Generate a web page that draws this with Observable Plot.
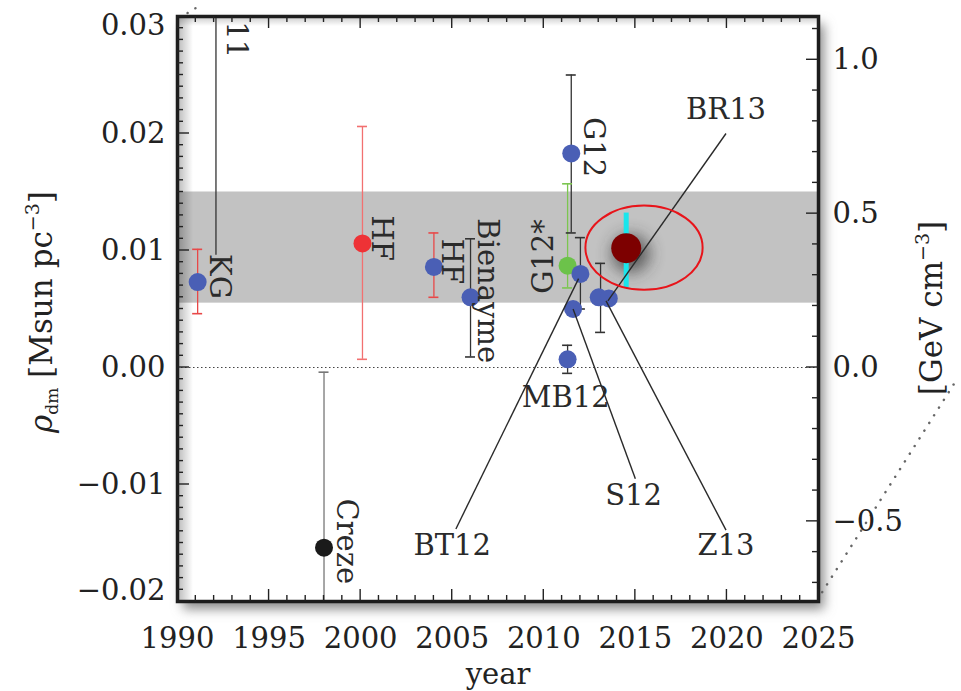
<!DOCTYPE html>
<html><head><meta charset="utf-8">
<script src="https://cdn.jsdelivr.net/npm/d3@7"></script>
<script src="https://cdn.jsdelivr.net/npm/@observablehq/plot@0.6"></script>
<style>
body{margin:0;background:#fff}
#chart svg{font-family:"DejaVu Serif",serif;overflow:visible}
</style>
</head><body><div id="chart"></div>
<script>
// ---- data ----
const K = 0.0263; // Msun pc^-3 per GeV cm^-3

const pointNames  = ["KG","HF","HF","Bienayme","G12","G12*","BT12","S12","MB12","Z13","Z13","Creze"];
const pointYears  = [1991.1,2000.1,2004.0,2006.0,2011.5,2011.3,2012.0,2011.6,2011.3,2013.0,2013.55,1998.0];
const pointValues = [0.0073,0.0106,0.0086,0.0060,0.0183,0.0087,0.0080,0.0050,0.0007,0.0060,0.0059,-0.0154];
const pointColors = ["#4a5fb5","#ee3236","#4a5fb5","#4a5fb5","#4a5fb5","#6cc24a","#4a5fb5","#4a5fb5","#4a5fb5","#4a5fb5","#4a5fb5","#1a1a1a"];

const br13Year = 2014.5, br13Value = 0.0102, br13Lo = 0.0068, br13Hi = 0.0132;

const barYears  = [1991.1,2000.1,2004.0,2006.0,2011.5,2011.3,2012.0,2011.3,2013.1,1998.0,1992.1];
const barLo     = [0.0046,0.0007,0.0060,0.0009,0.0115,0.0068,0.0050,-0.0005,0.0030,-0.0205,0.0096];
const barHi     = [0.0101,0.0206,0.0115,0.0110,0.0250,0.0157,0.0111,0.0019,0.0089,-0.0004,0.0305];
const barColors = ["#e84848","#f27070","#e84848","#333","#333","#7cc650","#333","#333","#333","#777","#333"];
const barCapLo  = [true,true,true,true,true,true,true,true,true,false,false];
const barCapHi  = [true,true,true,true,true,true,true,true,true,true,false];

const bandLo = 0.0055, bandHi = 0.015;

const leaderNames = ["BT12","S12","Z13","BR13"];
const leaderX1 = [2005.2,2015.0,2019.95,2019.95];
const leaderY1 = [-0.0138,-0.0095,-0.0139,0.0200];
const leaderX2 = [2011.9,2011.6,2013.4,2013.5];
const leaderY2 = [0.0076,0.0050,0.0057,0.0057];

const labelText   = ["11","KG","HF","HF","Bienayme","G12","Creze","G12*","BR13","MB12","S12","BT12","Z13"];
const labelYears  = [1993.2,1992.3,2001.15,2004.97,2006.9,2012.7,1999.2,2010.0,2019.95,2011.2,2014.9,2005.0,2019.95];
const labelValues = [0.0296,0.0097,0.0130,0.0110,0.01275,0.0214,-0.0112,0.0063,0.0220,-0.0026,-0.0110,-0.0152,-0.0152];
const labelRotate = [90,90,90,90,90,90,90,-90,0,0,0,0,0];

const ellipseYear = 2015.5, ellipseValue = 0.0102, ellipseRYears = 3.2, ellipseRValue = 0.0036;

const xTicks = [1990,1995,2000,2005,2010,2015,2020,2025];
const yTicks = [-0.02,-0.01,0.00,0.01,0.02,0.03];
const gevTicks = [-0.5,0.0,0.5,1.0];

const edgeYears  = [2025.2,2032.6];
const edgeValues = [-0.0192,-0.0009];
const edge2Years = [1990.55,1991.4];
const edge2Values= [0.0303,0.0311];

// ---- tables ----
const points = pointNames.map((n,i)=>({name:n,year:pointYears[i],value:pointValues[i],color:pointColors[i]}));
const bars = barYears.map((y,i)=>({year:y,lo:barLo[i],hi:barHi[i],color:barColors[i]}));
const caps = [];
bars.forEach((b,i)=>{ if(barCapLo[i]) caps.push({year:b.year,v:b.lo,color:b.color}); if(barCapHi[i]) caps.push({year:b.year,v:b.hi,color:b.color}); });
const leaders = leaderNames.map((n,i)=>({x1:leaderX1[i],y1:leaderY1[i],x2:leaderX2[i],y2:leaderY2[i]}));
const labels = labelText.map((t,i)=>({text:t,year:labelYears[i],value:labelValues[i],rot:labelRotate[i]}));

const fmt2 = d3.format(".2f"), fmt1 = d3.format(".1f");

// frame shadow & inner shading
function frameDecor(index, {x, y}, values, dim) {
  const L = dim.marginLeft, R = dim.width - dim.marginRight, T = dim.marginTop, B = dim.height - dim.marginBottom;
  const g = d3.create("svg:g");
  const defs = g.append("defs");
  defs.append("filter").attr("id","fshadow").attr("x","-10%").attr("y","-10%").attr("width","130%").attr("height","130%")
    .append("feGaussianBlur").attr("stdDeviation",6);
  g.append("rect").attr("x",L+6).attr("y",T+8).attr("width",R-L).attr("height",B-T)
    .attr("fill","#8a8a8a").attr("filter","url(#fshadow)");
  g.append("rect").attr("x",L).attr("y",T).attr("width",R-L).attr("height",B-T).attr("fill","#fff");
  return g.node();
}
function innerShade(index, s, values, dim) {
  const L = dim.marginLeft, R = dim.width - dim.marginRight, T = dim.marginTop, B = dim.height - dim.marginBottom;
  const g = d3.create("svg:g");
  const defs = g.append("defs");
  const lg = defs.append("linearGradient").attr("id","lshade").attr("x1",0).attr("x2",1).attr("y1",0).attr("y2",0);
  lg.append("stop").attr("offset",0).attr("stop-color","#000").attr("stop-opacity",0.28);
  lg.append("stop").attr("offset",1).attr("stop-color","#000").attr("stop-opacity",0);
  const tg = defs.append("linearGradient").attr("id","tshade").attr("x1",0).attr("x2",0).attr("y1",0).attr("y2",1);
  tg.append("stop").attr("offset",0).attr("stop-color","#000").attr("stop-opacity",0.22);
  tg.append("stop").attr("offset",1).attr("stop-color","#000").attr("stop-opacity",0);
  g.append("rect").attr("x",L).attr("y",T).attr("width",16).attr("height",B-T).attr("fill","url(#lshade)");
  g.append("rect").attr("x",L).attr("y",T).attr("width",R-L).attr("height",10).attr("fill","url(#tshade)");
  return g.node();
}
function br13Shadow(index, {x, y}) {
  const g = d3.create("svg:g");
  g.append("defs").append("filter").attr("id","dshadow").attr("x","-100%").attr("y","-100%").attr("width","300%").attr("height","300%")
    .append("feGaussianBlur").attr("stdDeviation",8);
  g.append("circle").attr("cx",x(br13Year)+5).attr("cy",y(br13Value)+6).attr("r",19)
    .attr("fill","#333").attr("opacity",0.7).attr("filter","url(#dshadow)");
  return g.node();
}
function ellipse(index, {x, y}) {
  const cx = x(ellipseYear), cy = y(ellipseValue);
  const rx = x(ellipseYear + ellipseRYears) - cx, ry = y(ellipseValue - ellipseRValue) - cy;
  return d3.create("svg:ellipse").attr("cx",cx).attr("cy",cy).attr("rx",rx).attr("ry",ry)
    .attr("fill","none").attr("stroke","#e8141a").attr("stroke-width",2).node();
}
function ticks(index, {x, y}, values, dim) {
  const L = dim.marginLeft, R = dim.width - dim.marginRight, T = dim.marginTop, B = dim.height - dim.marginBottom;
  const g = d3.create("svg:g").attr("stroke","#222").attr("stroke-width",1.4);
  const major = 12, minor = 6;
  for (let yr = 1990; yr <= 2025; yr++) {
    const len = yr % 5 === 0 ? major : minor, px = x(yr);
    g.append("line").attr("x1",px).attr("x2",px).attr("y1",B).attr("y2",B-len);
    g.append("line").attr("x1",px).attr("x2",px).attr("y1",T).attr("y2",T+len);
  }
  for (let k = -20; k <= 30; k++) {
    const len = k % 10 === 0 ? major : minor, py = y(k/1000);
    g.append("line").attr("x1",L).attr("x2",L+len).attr("y1",py).attr("y2",py);
  }
  for (let k = -7; k <= 11; k++) {
    const len = k % 5 === 0 ? major : minor, py = y(k/10*K);
    if (py < T || py > B) continue;
    g.append("line").attr("x1",R).attr("x2",R-len).attr("y1",py).attr("y2",py);
  }
  return g.node();
}
function axisTitles(index, s, values, dim) {
  const g = d3.create("svg:g").attr("fill","#222").attr("font-size",31);
  const t = g.append("text").attr("transform","translate(52,312) rotate(-90)").attr("text-anchor","middle");
  t.append("tspan").attr("font-style","italic").text("ρ");
  t.append("tspan").attr("font-size",17).attr("dy",6).text("dm");
  t.append("tspan").attr("dy",-6).text(" [Msun pc");
  t.append("tspan").attr("font-size",19).attr("dy",-13).text("−3");
  t.append("tspan").attr("dy",13).text("]");
  const r = g.append("text").attr("transform","translate(942,308) rotate(-90)").attr("text-anchor","middle");
  r.append("tspan").text("[GeV cm");
  r.append("tspan").attr("font-size",19).attr("dy",-13).text("−3");
  r.append("tspan").attr("dy",13).text("]");
  return g.node();
}

const chart = Plot.plot({
  width: 961, height: 691,
  marginLeft: 177, marginRight: 143, marginTop: 16, marginBottom: 90,
  x: {domain: [1990, 2025], axis: null},
  y: {domain: [-0.02, 0.03], axis: null},
  style: {fontFamily: "DejaVu Serif, serif", fontSize: "29px", color: "#222", background: "transparent"},
  marks: [
    frameDecor,
    Plot.rect([{lo: bandLo, hi: bandHi}], {y1: "lo", y2: "hi", fill: "#c2c2c2"}),
    innerShade,
    Plot.ruleY([0], {stroke: "#444", strokeWidth: 1.2, strokeDasharray: "1.5,2.5"}),
    Plot.ruleX(bars, {x: "year", y1: "lo", y2: "hi", stroke: "color", strokeWidth: 1.3, clip: true}),
    Plot.ruleY(caps, {y: "v", x1: "year", x2: "year", insetLeft: -5, insetRight: -5, stroke: "color", strokeWidth: 1.6}),
    Plot.dot(points, {x: "year", y: "value", fill: "color", r: 9}),
    br13Shadow,
    Plot.ruleX([{year: br13Year, lo: br13Lo, hi: br13Hi}], {x: "year", y1: "lo", y2: "hi", stroke: "#19e6ec", strokeWidth: 5}),
    Plot.dot([{year: br13Year, value: br13Value}], {x: "year", y: "value", fill: "#7d0000", r: 15}),
    Plot.link(leaders, {x1: "x1", y1: "y1", x2: "x2", y2: "y2", stroke: "#2a2a2a", strokeWidth: 1.4}),
    ellipse,
    Plot.text(labels.filter(d => d.rot === 90), {x: "year", y: "value", text: "text", rotate: 90, textAnchor: "start", fill: "#2a2a2a"}),
    Plot.text(labels.filter(d => d.rot === -90), {x: "year", y: "value", text: "text", rotate: -90, textAnchor: "start", fill: "#2a2a2a"}),
    Plot.text(labels.filter(d => d.rot === 0), {x: "year", y: "value", text: "text", textAnchor: "middle", fill: "#2a2a2a"}),
    Plot.frame({stroke: "#1c1c1c", strokeWidth: 3.5}),
    ticks,
    Plot.line(edgeYears.map((x,i)=>({x, y: edgeValues[i]})), {x: "x", y: "y", stroke: "#666", strokeWidth: 2.5, strokeDasharray: "0.1,9", strokeLinecap: "round"}),
    Plot.line(edge2Years.map((x,i)=>({x, y: edge2Values[i]})), {x: "x", y: "y", stroke: "#666", strokeWidth: 2.5, strokeDasharray: "0.1,9", strokeLinecap: "round"}),
    Plot.axisX({ticks: xTicks, tickSize: 0, tickPadding: 26, tickFormat: d => String(d), fill: "#222"}),
    Plot.text(["year"], {frameAnchor: "bottom", dy: 82, text: d => d, fill: "#222"}),
    Plot.axisY({ticks: yTicks.slice(1, -1), tickSize: 0, tickPadding: 12, tickFormat: fmt2, fill: "#222"}),
    Plot.axisY({ticks: [yTicks[yTicks.length-1]], tickSize: 0, tickPadding: 12, tickFormat: fmt2, dy: 9, fill: "#222"}),
    Plot.axisY({ticks: [yTicks[0]], tickSize: 0, tickPadding: 12, tickFormat: fmt2, dy: -11, fill: "#222"}),
    Plot.axisY({anchor: "right", ticks: gevTicks.map(g => g * K), tickSize: 0, tickPadding: 14, tickFormat: v => fmt1(v / K), fill: "#222"}),
    axisTitles
  ]
});
document.getElementById("chart").append(chart);
</script>
</body></html>
